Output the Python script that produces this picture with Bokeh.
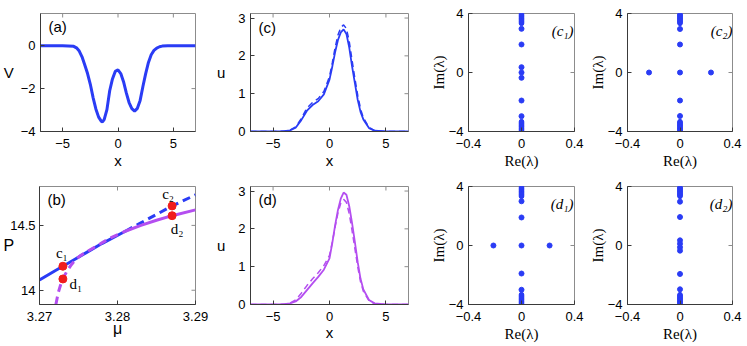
import math
from bokeh.plotting import figure
from bokeh.models import Range1d, FixedTicker, Label
from bokeh.layouts import row, column
from bokeh.embed import file_html
from bokeh.resources import INLINE

# ---------------- data ----------------
# (a) potential V(x)
v_x = [-7, -5, -4.5, -4.0, -3.75, -3.5, -3.25, -3.0, -2.75, -2.5, -2.25, -2.0, -1.75, -1.5, -1.4,
       -1.25, -1.0, -0.75, -0.5, -0.25, 0.0, 0.25, 0.5, 0.75, 1.0, 1.25, 1.5, 1.75, 2.0, 2.25,
       2.5, 2.75, 3.0, 3.25, 3.5, 3.75, 4.0, 4.5, 5, 7]
v_vals = [0, 0, -0.01, -0.03, -0.10, -0.25, -0.52, -0.90, -1.30, -1.80, -2.42, -2.95, -3.33, -3.53, -3.55,
          -3.45, -2.98, -2.10, -1.55, -1.20, -1.13, -1.30, -1.68, -2.20, -2.65, -2.93, -3.05, -2.92, -2.55, -1.90,
          -1.30, -0.78, -0.42, -0.22, -0.11, -0.05, -0.02, 0, 0, 0]

# (b) power P versus mu
blue_solid_mu = [3.27, 3.272, 3.274, 3.276, 3.278, 3.281]
blue_solid_P = [14.08, 14.15, 14.22, 14.29, 14.36, 14.455]
blue_dash_mu = [3.281, 3.283, 3.285, 3.287, 3.29]
blue_dash_P = [14.455, 14.52, 14.585, 14.65, 14.735]
mag_dash_mu = [3.2721, 3.2724, 3.2727, 3.273, 3.2735, 3.274, 3.2746, 3.2752, 3.276, 3.277, 3.278, 3.279, 3.281]
mag_dash_P = [13.89, 13.98, 14.04, 14.09, 14.145, 14.19, 14.235, 14.265, 14.295, 14.33, 14.365, 14.40, 14.455]
mag_solid_mu = [3.281, 3.283, 3.285, 3.287, 3.29]
mag_solid_P = [14.455, 14.50, 14.54, 14.575, 14.62]
dot_mu = [3.273, 3.273, 3.287, 3.287]
dot_P = [14.185, 14.087, 14.65, 14.575]
dot_names = ["c\u2081", "d\u2081", "c\u2082", "d\u2082"]

# (c), (d) profiles u(x)
u_x = [-7, -5, -4, -3.5, -3, -2.5, -2, -1.5, -1, -0.5, 0, 0.25, 0.5, 0.75, 1, 1.25, 1.5, 1.75,
       2, 2.25, 2.5, 2.75, 3, 3.5, 4, 5, 7]
c_solid = [0, 0, 0.01, 0.03, 0.10, 0.30, 0.55, 0.70, 0.80, 0.98, 1.37, 1.72, 2.10, 2.42, 2.62, 2.70, 2.58, 2.22,
           1.72, 1.28, 0.84, 0.52, 0.32, 0.09, 0.02, 0, 0]
c_dash = [0, 0, 0.01, 0.04, 0.12, 0.34, 0.62, 0.77, 0.87, 1.06, 1.45, 1.82, 2.22, 2.55, 2.75, 2.82, 2.72, 2.38,
          1.88, 1.40, 0.96, 0.60, 0.36, 0.11, 0.02, 0, 0]
d_solid = [0, 0, 0.01, 0.03, 0.08, 0.20, 0.38, 0.56, 0.73, 0.92, 1.22, 1.63, 2.10, 2.50, 2.80, 2.96, 2.90, 2.60,
           2.15, 1.65, 1.12, 0.68, 0.40, 0.12, 0.03, 0, 0]
d_dash = [0, 0, 0.01, 0.04, 0.12, 0.30, 0.50, 0.68, 0.84, 1.03, 1.30, 1.65, 2.05, 2.42, 2.68, 2.78, 2.70, 2.40,
          1.95, 1.48, 1.00, 0.60, 0.35, 0.10, 0.02, 0, 0]

# eigenvalue spectra
cont_im = [3.33, 3.38, 3.43, 3.48, 3.53, 3.58, 3.63, 3.68, 3.73, 3.78, 3.83, 3.88, 3.93, 3.98,
           -3.33, -3.38, -3.43, -3.48, -3.53, -3.58, -3.63, -3.68, -3.73, -3.78, -3.83, -3.88, -3.93, -3.98]
c1_re = [0, 0, 0, 0, 0, 0, 0]
c1_im = [2.96, 1.9, 0.36, 0.0, -0.36, -1.9, -2.96]
c2_re = [-0.236, 0.236, 0, 0, 0, 0, 0]
c2_im = [0, 0, 2.95, 1.9, 0, -1.9, -2.95]
d1_re = [-0.212, 0.212, 0, 0, 0, 0, 0]
d1_im = [0, 0, 3.0, 1.9, 0, -1.9, -3.0]
d2_re = [0, 0, 0, 0, 0, 0, 0, 0]
d2_im = [2.97, 1.93, 0.35, 0.12, -0.12, -0.35, -1.93, -2.97]

# tick values
x_ticks = [-5, 0, 5]
v_ticks = [-4, -2, 0]
mu_ticks = [3.27, 3.28, 3.29]
p_ticks = [14, 14.5]
u_ticks = [0, 1, 2, 3]
re_ticks = [-0.4, 0, 0.4]
im_ticks = [-4, 0, 4]

# ---------------- style ----------------
BLUE = "#2a3cf5"
MAG = "#b44ef0"
RED = "#f01c1c"
DARK = "#3a3a3a"
GRAY = "#8c8c8c"
SANS = "Liberation Sans"
SERIF = "Liberation Serif"


def fmt(t):
    return ("%g" % t).replace("-", "\u2212")


def make_fig(w, h, left, right, top, bottom, xr, yr, xt, yt,
             xlabel, ylabel, xls, yls, xfont=SANS, yfont=SANS, xsize="15px", ysize="15px",
             yorient="horizontal", xst=7, yst=5):
    p = figure(width=w, height=h, x_range=Range1d(*xr), y_range=Range1d(*yr),
               output_backend="svg", toolbar_location=None,
               min_border_left=left, min_border_right=right,
               min_border_top=top, min_border_bottom=bottom)
    p.grid.visible = False
    p.outline_line_color = GRAY
    p.outline_line_width = 1
    for ax, ticks, st in ((p.xaxis[0], xt, xst), (p.yaxis[0], yt, yst)):
        ax.ticker = FixedTicker(ticks=ticks)
        ax.major_label_overrides = {t: fmt(t) for t in ticks}
        ax.major_tick_in = 4
        ax.major_tick_out = 0
        ax.minor_tick_line_color = None
        ax.axis_line_color = DARK
        ax.major_tick_line_color = DARK
        ax.major_label_text_font = SANS
        ax.major_label_text_font_size = "13px"
        ax.major_label_text_color = "black"
        ax.major_label_standoff = st
        ax.axis_label_text_font_style = "normal"
        ax.axis_label_text_color = "black"
    xa, ya = p.xaxis[0], p.yaxis[0]
    xa.axis_label = xlabel
    xa.axis_label_text_font = xfont
    xa.axis_label_text_font_size = xsize
    xa.axis_label_standoff = xls
    ya.axis_label = ylabel
    ya.axis_label_text_font = yfont
    ya.axis_label_text_font_size = ysize
    ya.axis_label_standoff = yls
    ya.axis_label_orientation = yorient
    # inward ticks on the top and right sides of the box
    p.ray(x=[xr[1]] * len(yt), y=yt, length=4, length_units="screen", angle=math.pi,
          line_color=GRAY, line_width=1)
    p.ray(x=xt, y=[yr[1]] * len(xt), length=4, length_units="screen", angle=-math.pi / 2,
          line_color=GRAY, line_width=1)
    return p


def tag(p, text, x, y, font=SANS, size="15px", align="left", style="normal"):
    p.add_layout(Label(x=x, y=y, x_units="screen", y_units="screen", text=text,
                       text_font=font, text_font_size=size,
                       text_align=align, text_baseline="middle",
                       text_font_style=style, text_color="black"))


H1, T1, B1 = 176, 13, 45
H2, T2, B2 = 170, 10, 42

# ---- (a)
fa = make_fig(213, H1, 37, 18, T1, B1, (-7, 7), (-4, 1.5), x_ticks, v_ticks,
              "x", "V", 1, 4)
fa.line(v_x, v_vals, color=BLUE, line_width=3)
tag(fa, "(a)", 8, 105)

# ---- (b)
fb = make_fig(213, H2, 37, 18, T2, B2, (3.27, 3.29), (13.89, 14.8), mu_ticks, p_ticks,
              "\u03bc", "P", -4, -7, xsize="16px", ysize="16px", yst=4)
fb.line(blue_solid_mu, blue_solid_P, color=BLUE, line_width=3)
fb.line(blue_dash_mu, blue_dash_P, color=BLUE, line_width=3, line_dash="8 5")
fb.line(mag_solid_mu, mag_solid_P, color=MAG, line_width=3)
fb.line(mag_dash_mu, mag_dash_P, color=MAG, line_width=3, line_dash="8 5")
fb.scatter(dot_mu, dot_P, size=8, color=RED)
offs = [(-1, 13), (13, -5), (-4, 12), (5, -13)]
for m, pv, name, (ox, oy) in zip(dot_mu, dot_P, dot_names, offs):
    fb.add_layout(Label(x=m, y=pv, text=name, x_offset=ox, y_offset=oy,
                        text_font=SERIF, text_font_size="15px", text_align="center",
                        text_baseline="middle", text_color="black"))
tag(fb, "(b)", 8, 105)

# ---- (c)
fc = make_fig(214, H1, 37, 19, T1, B1, (-7, 7), (0, 3.12), x_ticks, u_ticks,
              "x", "u", 1, 10)
fc.line(u_x, c_solid, color=BLUE, line_width=1.8)
fc.line(u_x, c_dash, color=BLUE, line_width=1.5, line_dash="6 4")
tag(fc, "(c)", 8, 104)

# ---- (d)
fd = make_fig(214, H2, 37, 19, T2, B2, (-7, 7), (0, 3.12), x_ticks, u_ticks,
              "x", "u", 0, 10)
fd.line(u_x, d_solid, color=MAG, line_width=1.8)
fd.line(u_x, d_dash, color=MAG, line_width=1.5, line_dash="6 4")
tag(fd, "(d)", 8, 105)


def eig_fig(w, h, left, right, top, bottom, re, im, label, xls):
    p = make_fig(w, h, left, right, top, bottom, (-0.4, 0.4), (-4, 4), re_ticks, im_ticks,
                 "Re(\u03bb)", "Im(\u03bb)", xls, -1, xfont=SERIF, yfont=SERIF,
                 yorient="parallel")
    p.scatter([0] * len(cont_im), cont_im, size=4.5, color=BLUE)
    p.scatter(re, im, size=5, color=BLUE)
    tag(p, label, 105, 101, font=SERIF, align="right", style="italic")
    return p


fc1 = eig_fig(159, H1, 38, 12, T1, B1, c1_re, c1_im, "(c\u2081)", 2)
fc2 = eig_fig(161, H1, 37, 15, T1, B1, c2_re, c2_im, "(c\u2082)", 2)
fd1 = eig_fig(159, H2, 38, 12, T2, B2, d1_re, d1_im, "(d\u2081)", 2)
fd2 = eig_fig(161, H2, 37, 15, T2, B2, d2_re, d2_im, "(d\u2082)", 2)

layout = column(row(fa, fc, fc1, fc2), row(fb, fd, fd1, fd2))

open("out.html", "w").write(file_html(layout, INLINE))
